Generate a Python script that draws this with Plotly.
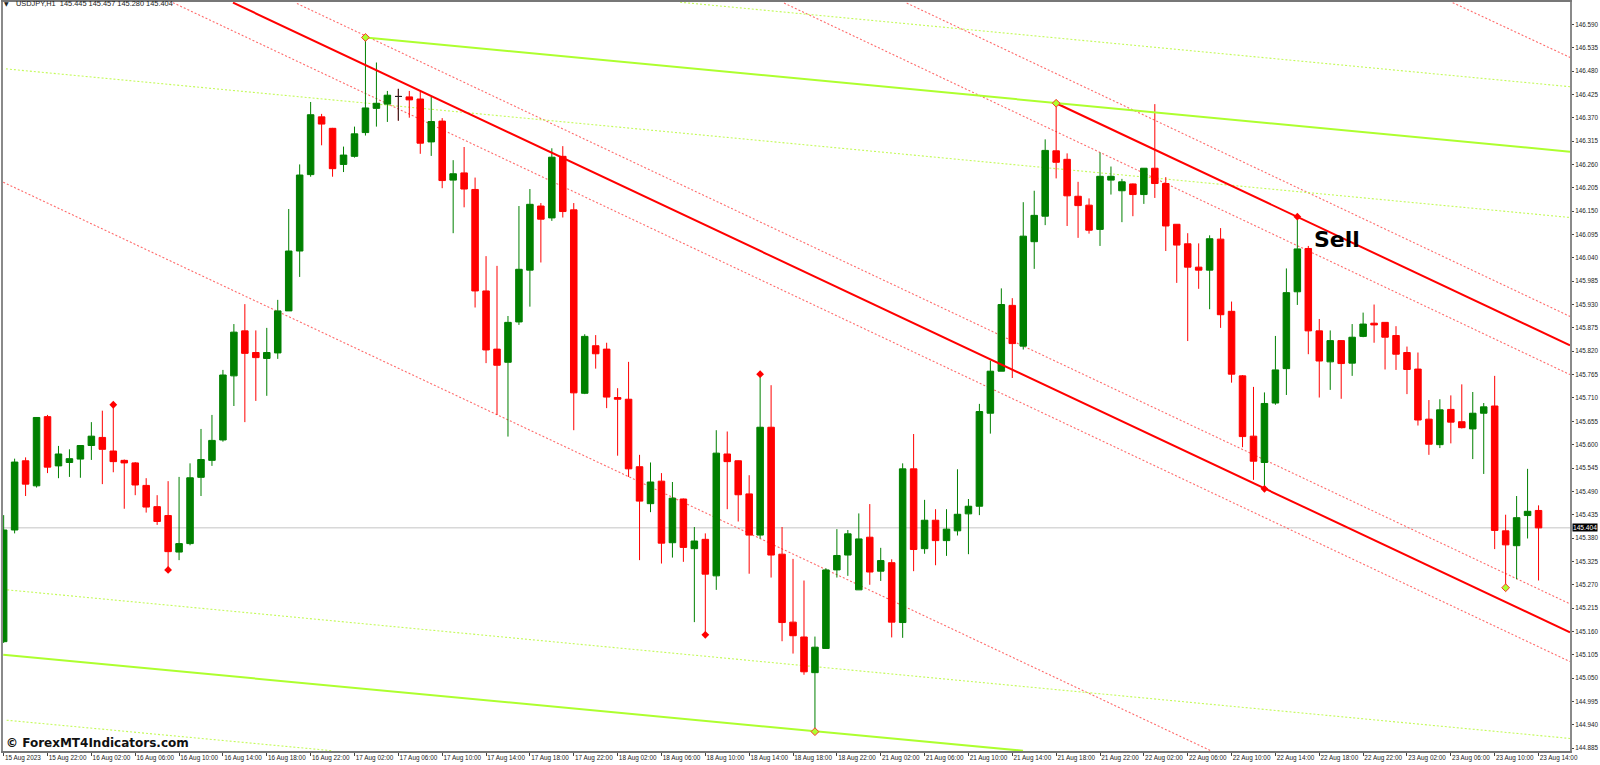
import plotly.graph_objects as go

opens = [
    145.136, 145.399, 145.562, 145.503, 145.666, 145.550, 145.558, 145.566, 145.598, 145.617,
    145.585, 145.563, 145.557, 145.504, 145.454, 145.433, 145.347, 145.367, 145.523, 145.563,
    145.611, 145.762, 145.868, 145.817, 145.803, 145.816, 145.915, 146.056, 146.236, 146.372,
    146.345, 146.260, 146.279, 146.335, 146.392, 146.402, 146.420, 146.419, 146.414, 146.313,
    146.362, 146.223, 146.240, 146.201, 145.962, 145.825, 145.794, 145.889, 146.011, 146.162,
    146.134, 146.279, 146.153, 145.721, 145.833, 145.825, 145.711, 145.707, 145.548, 145.461,
    145.514, 145.369, 145.472, 145.355, 145.377, 145.291, 145.578, 145.562, 145.484, 145.387,
    145.641, 145.342, 145.182, 145.147, 145.063, 145.120, 145.305, 145.340, 145.258, 145.382,
    145.302, 145.322, 145.181, 145.543, 145.355, 145.422, 145.374, 145.397, 145.437, 145.455,
    145.674, 145.773, 145.928, 145.832, 146.078, 146.138, 146.292, 146.272, 146.185, 146.164,
    146.107, 146.223, 146.198, 146.214, 146.189, 146.251, 146.215, 146.119, 146.073, 146.018,
    146.011, 146.084, 145.914, 145.762, 145.620, 145.558, 145.698, 145.779, 145.960, 146.062,
    145.868, 145.795, 145.845, 145.792, 145.855, 145.886, 145.888, 145.857, 145.817, 145.778,
    145.660, 145.600, 145.683, 145.654, 145.637, 145.674, 145.691, 145.397, 145.362, 145.433,
    145.445,
]
highs = [
    145.434, 145.567, 145.570, 145.665, 145.670, 145.597, 145.589, 145.598, 145.653, 145.680,
    145.694, 145.565, 145.559, 145.521, 145.481, 145.514, 145.524, 145.556, 145.637, 145.670,
    145.776, 145.884, 145.931, 145.869, 145.875, 145.941, 146.155, 146.260, 146.407, 146.379,
    146.346, 146.302, 146.349, 146.559, 146.500, 146.433, 146.438, 146.433, 146.434, 146.419,
    146.369, 146.270, 146.301, 146.229, 146.044, 146.021, 145.903, 146.162, 146.202, 146.169,
    146.298, 146.303, 146.169, 145.860, 145.858, 145.840, 145.733, 145.795, 145.576, 145.558,
    145.533, 145.512, 145.473, 145.406, 145.391, 145.634, 145.631, 145.563, 145.528, 145.766,
    145.740, 145.406, 145.331, 145.280, 145.148, 145.309, 145.401, 145.399, 145.438, 145.460,
    145.357, 145.330, 145.556, 145.625, 145.470, 145.448, 145.448, 145.542, 145.472, 145.696,
    145.798, 145.968, 145.945, 146.171, 146.198, 146.319, 146.404, 146.286, 146.219, 146.180,
    146.288, 146.255, 146.226, 146.215, 146.251, 146.402, 146.230, 146.119, 146.098, 146.074,
    146.093, 146.110, 145.937, 145.764, 145.736, 145.723, 145.856, 146.015, 146.137, 146.068,
    145.896, 145.869, 145.846, 145.884, 145.911, 145.930, 145.888, 145.879, 145.831, 145.817,
    145.705, 145.707, 145.716, 145.742, 145.724, 145.698, 145.762, 145.435, 145.479, 145.543,
    145.457,
]
lows = [
    145.133, 145.391, 145.479, 145.499, 145.533, 145.521, 145.524, 145.522, 145.564, 145.507,
    145.535, 145.449, 145.481, 145.440, 145.411, 145.305, 145.328, 145.363, 145.479, 145.550,
    145.607, 145.691, 145.653, 145.703, 145.715, 145.802, 145.915, 145.995, 146.231, 146.305,
    146.231, 146.242, 146.276, 146.328, 146.349, 146.360, 146.363, 146.370, 146.285, 146.280,
    146.204, 146.098, 146.159, 145.923, 145.792, 145.670, 145.619, 145.882, 145.925, 146.029,
    146.127, 146.135, 145.634, 145.719, 145.779, 145.686, 145.574, 145.524, 145.328, 145.441,
    145.320, 145.334, 145.324, 145.182, 145.152, 145.258, 145.448, 145.419, 145.296, 145.379,
    145.287, 145.137, 145.108, 145.058, 144.924, 145.119, 145.287, 145.291, 145.258, 145.270,
    145.279, 145.146, 145.145, 145.302, 145.343, 145.316, 145.338, 145.386, 145.342, 145.434,
    145.626, 145.773, 145.757, 145.824, 146.014, 146.117, 146.227, 146.115, 146.087, 146.097,
    146.068, 146.189, 146.124, 146.138, 146.167, 146.181, 146.056, 145.981, 145.844, 145.967,
    145.919, 145.875, 145.746, 145.594, 145.517, 145.496, 145.694, 145.717, 145.929, 145.813,
    145.711, 145.729, 145.708, 145.762, 145.853, 145.840, 145.777, 145.776, 145.719, 145.645,
    145.576, 145.592, 145.603, 145.638, 145.566, 145.531, 145.354, 145.263, 145.283, 145.379,
    145.280,
]
closes = [
    145.399, 145.559, 145.507, 145.664, 145.547, 145.578, 145.567, 145.598, 145.620, 145.589,
    145.560, 145.557, 145.505, 145.453, 145.419, 145.348, 145.367, 145.522, 145.565, 145.610,
    145.764, 145.865, 145.815, 145.805, 145.817, 145.915, 146.056, 146.235, 146.377, 146.355,
    146.250, 146.282, 146.332, 146.393, 146.404, 146.423, 146.420, 146.412, 146.310, 146.361,
    146.222, 146.238, 146.202, 145.962, 145.823, 145.787, 145.888, 146.013, 146.166, 146.131,
    146.277, 146.149, 145.722, 145.855, 145.814, 145.712, 145.707, 145.543, 145.467, 145.512,
    145.368, 145.474, 145.358, 145.373, 145.295, 145.580, 145.560, 145.482, 145.387, 145.641,
    145.340, 145.181, 145.150, 145.065, 145.123, 145.305, 145.339, 145.390, 145.378, 145.300,
    145.327, 145.182, 145.543, 145.353, 145.422, 145.374, 145.401, 145.436, 145.455, 145.678,
    145.773, 145.930, 145.838, 146.091, 146.140, 146.293, 146.265, 146.186, 146.163, 146.105,
    146.232, 146.232, 146.219, 146.189, 146.251, 146.215, 146.115, 146.070, 146.018, 146.011,
    146.085, 145.906, 145.766, 145.619, 145.561, 145.697, 145.776, 145.958, 146.061, 145.868,
    145.797, 145.845, 145.791, 145.853, 145.884, 145.882, 145.853, 145.813, 145.777, 145.658,
    145.601, 145.682, 145.653, 145.640, 145.674, 145.689, 145.398, 145.364, 145.428, 145.443,
    145.404,
]
candle_idx = list(range(len(opens)))
doji_idx = 36

# every 4th bar gets a label
time_ticks = [0, 4, 8, 12, 16, 20, 24, 28, 32, 36, 40, 44, 48, 52, 56, 60, 64, 68,
              72, 76, 80, 84, 88, 92, 96, 100, 104, 108, 112, 116, 120, 124, 128, 132, 136, 140]
time_labels = [
    "15 Aug 2023", "15 Aug 22:00", "16 Aug 02:00", "16 Aug 06:00", "16 Aug 10:00", "16 Aug 14:00",
    "16 Aug 18:00", "16 Aug 22:00", "17 Aug 02:00", "17 Aug 06:00", "17 Aug 10:00", "17 Aug 14:00",
    "17 Aug 18:00", "17 Aug 22:00", "18 Aug 02:00", "18 Aug 06:00", "18 Aug 10:00", "18 Aug 14:00",
    "18 Aug 18:00", "18 Aug 22:00", "21 Aug 02:00", "21 Aug 06:00", "21 Aug 10:00", "21 Aug 14:00",
    "21 Aug 18:00", "21 Aug 22:00", "22 Aug 02:00", "22 Aug 06:00", "22 Aug 10:00", "22 Aug 14:00",
    "22 Aug 18:00", "22 Aug 22:00", "23 Aug 02:00", "23 Aug 06:00", "23 Aug 10:00", "23 Aug 14:00",
]
price_ticks = [
    146.590, 146.535, 146.480, 146.425, 146.370, 146.315, 146.260, 146.205, 146.150, 146.095,
    146.040, 145.985, 145.930, 145.875, 145.820, 145.765, 145.710, 145.655, 145.600, 145.545,
    145.490, 145.435, 145.380, 145.325, 145.270, 145.215, 145.160, 145.105, 145.050, 144.995,
    144.940, 144.885,
]
last_price = 145.404

# channel lines: start bar, start price, end bar, end price
red_solid = [
    (20.92, 146.641, 142.87, 145.158),
    (96, 146.404, 142.87, 145.834),
]
red_dotted = [
    (15.44, 146.641, 142.87, 145.089),
    (26.75, 146.639, 142.87, 145.225),
    (-0.04, 146.218, 110.2, 144.878),
    (71.18, 146.640, 142.87, 145.765),
    (82.37, 146.640, 142.87, 145.902),
    (132.17, 146.641, 142.87, 146.512),
]
lime_solid = [
    (33, 146.559, 142.87, 146.290),
    (-0.04, 145.105, 92.98, 144.879),
]
lime_dotted = [
    (0.21, 146.485, 142.87, 146.135),
    (61.7, 146.642, 142.87, 146.443),
    (0.33, 145.258, 142.87, 144.908),
    (0.27, 144.951, 30.04, 144.879),
]

red_marker_idx = [10, 15, 64, 69, 115, 118]
red_marker_price = [145.694, 145.305, 145.152, 145.766, 145.496, 146.137]
lime_marker_idx = [33, 74, 96, 137]
lime_marker_price = [146.559, 144.924, 146.404, 145.263]

fig = go.Figure()

fig.add_trace(go.Candlestick(
    x=candle_idx, open=opens, high=highs, low=lows, close=closes,
    increasing=dict(line=dict(color="#008000", width=1), fillcolor="#008000"),
    decreasing=dict(line=dict(color="#ff0000", width=1), fillcolor="#ff0000"),
    whiskerwidth=0, hoverinfo="skip",
))
# the doji is drawn black, not green
fig.add_trace(go.Candlestick(
    x=[candle_idx[doji_idx]], open=[opens[doji_idx]], high=[highs[doji_idx]],
    low=[lows[doji_idx]], close=[closes[doji_idx]],
    increasing=dict(line=dict(color="#222222", width=1), fillcolor="#222222"),
    decreasing=dict(line=dict(color="#222222", width=1), fillcolor="#222222"),
    whiskerwidth=0, hoverinfo="skip",
))

# dotted lines sit behind the candles, so shapes with layer below
for x0, y0, x1, y1 in red_dotted:
    fig.add_shape(type="line", x0=x0, y0=y0, x1=x1, y1=y1, layer="below",
                  line=dict(color="#ff6a6a", width=1.1, dash="2px,2px"))
for x0, y0, x1, y1 in lime_dotted:
    fig.add_shape(type="line", x0=x0, y0=y0, x1=x1, y1=y1, layer="below",
                  line=dict(color="#c4fa5a", width=1.1, dash="2px,2px"))
fig.add_shape(type="line", xref="paper", x0=0, x1=1, y0=last_price, y1=last_price, layer="below",
              line=dict(color="#d8d8d8", width=1.5))

for x0, y0, x1, y1 in red_solid:
    fig.add_trace(go.Scatter(x=[x0, x1], y=[y0, y1], mode="lines",
                             line=dict(color="#ff0000", width=2), hoverinfo="skip"))
for x0, y0, x1, y1 in lime_solid:
    fig.add_trace(go.Scatter(x=[x0, x1], y=[y0, y1], mode="lines",
                             line=dict(color="#adff2f", width=2), hoverinfo="skip"))

fig.add_trace(go.Scatter(x=red_marker_idx, y=red_marker_price, mode="markers",
                         marker=dict(symbol="diamond", size=6, color="#ff0000"), hoverinfo="skip"))
fig.add_trace(go.Scatter(x=lime_marker_idx, y=lime_marker_price, mode="markers",
                         marker=dict(symbol="diamond", size=6, color="#adff2f",
                                     line=dict(color="#ff3030", width=1)), hoverinfo="skip"))

fig.add_annotation(x=121.65, y=146.084, text="<b>Sell</b>", showarrow=False, xanchor="center",
                   font=dict(family="DejaVu Sans", size=22, color="#000000"))

fig.add_annotation(xref="paper", yref="paper", x=-0.0005, y=0.9975, xanchor="left", yanchor="middle",
                   text="▼", showarrow=False, font=dict(family="DejaVu Sans", size=6, color="#222222"))
fig.add_annotation(xref="paper", yref="paper", x=0.0068, y=0.9975, xanchor="left", yanchor="middle",
                   text="USDJPY,H1  145.445 145.457 145.280 145.404", showarrow=False,
                   font=dict(family="Liberation Sans", size=7.4, color="#222222"))
fig.add_annotation(xref="paper", yref="paper", x=0.0005, y=0.0110, xanchor="left", yanchor="middle",
                   text="<b>© ForexMT4Indicators.com</b>", showarrow=False,
                   font=dict(family="DejaVu Sans", size=12, color="#111111"))
fig.add_annotation(xref="paper", x=1.0012, y=last_price, xanchor="left", yanchor="middle",
                   text="145.404", showarrow=False, bgcolor="#000000", borderpad=0,
                   font=dict(family="Liberation Sans", size=6.6, color="#ffffff"))

fig.update_layout(
    width=1600, height=765,
    margin=dict(l=3, r=30, t=2, b=14),
    paper_bgcolor="#ffffff", plot_bgcolor="#ffffff",
    showlegend=False,
    boxmode="overlay", boxgap=0.15,
    xaxis=dict(
        range=[-0.06, 142.87], tickmode="array", tickvals=time_ticks, ticktext=time_labels,
        rangeslider=dict(visible=False), showgrid=False, zeroline=False, automargin=False,
        ticks="outside", ticklen=3, tickcolor="#444444", ticklabelposition="outside right",
        tickangle=0, showline=True, linecolor="#777777", linewidth=1.5, mirror=True,
        tickfont=dict(family="Liberation Sans", size=6.4, color="#222222"),
    ),
    yaxis=dict(
        range=[144.8785, 146.6425], side="right", tickmode="array", tickvals=price_ticks,
        ticktext=["%.3f" % p for p in price_ticks], showgrid=False, zeroline=False, automargin=False,
        ticks="outside", ticklen=2, tickcolor="#444444",
        showline=True, linecolor="#8a8a8a", linewidth=2, mirror=True,
        tickfont=dict(family="Liberation Sans", size=6.3, color="#222222"),
    ),
)

fig.write_html("out.html", config={"displayModeBar": False}, post_script="document.body.style.margin='0';")
